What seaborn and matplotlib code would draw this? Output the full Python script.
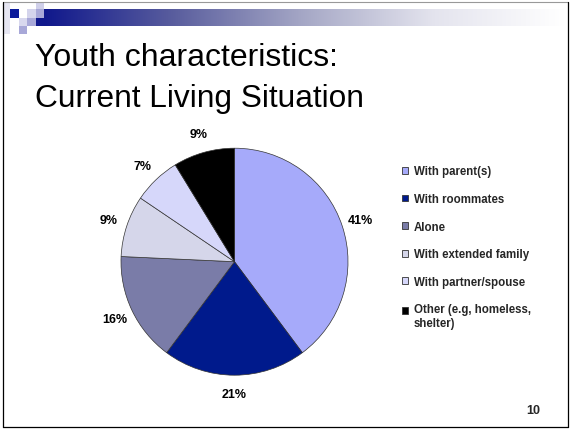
import numpy as np
import matplotlib
matplotlib.use("Agg")
import matplotlib.pyplot as plt
from matplotlib.patches import Rectangle
from matplotlib.lines import Line2D
import seaborn as sns

# ---- data ----
categories = ["With parent(s)", "With roommates", "Alone", "With extended family",
              "With partner/spouse", "Other (e.g, homeless,\nshelter)"]
values = [41, 21, 16, 9, 7, 9]
colors = ["#A6AAFA", "#001A8C", "#7A7CA8", "#D5D6EA", "#D6D7FA", "#000000"]
title_lines = ["Youth characteristics:", "Current Living Situation"]
slide_number = "10"

sns.set_theme(style="white")
plt.rcParams["font.family"] = ["Liberation Sans", "DejaVu Sans"]

W, H = 572, 431
fig = plt.figure(figsize=(W / 100, H / 100), dpi=100)
fig.patch.set_facecolor("white")

def px_rect(x0, y0, w, h, color, **kw):
    fig.patches.append(Rectangle((x0 / W, 1 - (y0 + h) / H), w / W, h / H,
                                 transform=fig.transFigure, facecolor=color,
                                 edgecolor="none", **kw))

# gradient header bar
gax = fig.add_axes([44 / W, 1 - 27 / H, (565 - 44) / W, 17 / H])
grad = np.linspace(0, 1, 256)[None, :]
cmap = matplotlib.colors.LinearSegmentedColormap.from_list(
    "hdr", ["#10188C", "#5A5E9E", "#A6A8C6", "#E4E4EE", "#FFFFFF"])
gax.imshow(grad, aspect="auto", cmap=cmap, extent=[0, 1, 0, 1])
gax.axis("off")

# corner squares
px_rect(3, 3, 7, 32, "#E6E6F2")
px_rect(36, 3, 8, 7, "#D0D0EA")
px_rect(10, 10, 9, 9, "#0A1A9A")
px_rect(27, 10, 9, 9, "#D4D4EC")
px_rect(36, 10, 8, 9, "#A8A8D8")
px_rect(36, 19, 8, 8, "#10188C")
px_rect(19, 19, 8, 8, "#D8D8EE")
px_rect(27, 19, 9, 8, "#A8A8D8")
px_rect(19, 27, 8, 8, "#A8A8D8")

# slide border
def px_line(x0, y0, x1, y1, color, lw):
    fig.lines.append(Line2D([x0 / W, x1 / W], [1 - y0 / H, 1 - y1 / H],
                            transform=fig.transFigure, color=color, lw=lw))
px_line(3, 3, 568, 3, "#999999", 0.8)
px_line(3, 3, 3, 428, "#000000", 0.9)
px_line(3, 428, 568, 428, "#000000", 0.9)
px_line(568, 3, 568, 428, "#000000", 0.9)

# title
fig.text(35 / W, 1 - 66.5 / H, title_lines[0], fontsize=23, va="baseline", ha="left", color="black")
fig.text(35 / W, 1 - 106.5 / H, title_lines[1], fontsize=22.8, va="baseline", ha="left", color="black")

# pie
cx, cy, R = 234.5, 262.7, 113.5
side = 2.5 * R
ax = fig.add_axes([(cx - side / 2) / W, (H - cy - side / 2) / H, side / W, side / H])
wedges, texts = ax.pie(values, colors=colors, startangle=90, counterclock=False,
                       labels=[f"{v}%" for v in values], labeldistance=1.17,
                       wedgeprops=dict(edgecolor="#333333", linewidth=0.5),
                       textprops=dict(fontsize=9, fontweight="bold", color="black"))
for t in texts:
    t.set_ha("center")
    t.set_va("center")
ax.set_xlim(-1.25, 1.25)
ax.set_ylim(-1.25, 1.25)
ax.set_aspect("equal")
ax.axis("off")

# legend
leg = fig.legend(wedges, categories, loc="upper left",
                 bbox_to_anchor=(402 / W, 1 - 166.5 / H), frameon=False,
                 prop=dict(size=8.3, weight="bold"), handlelength=0.55, handleheight=0.55,
                 handletextpad=0.5, labelspacing=1.35, borderaxespad=0, borderpad=0)
for h in leg.legend_handles:
    h.set_edgecolor("#333333")
    h.set_linewidth(0.6)
# align the two-line entry's marker with its first line
last = leg.legend_handles[-1]
last.set_y(last.get_y() + 4.2)

# slide number
fig.text(533 / W, 1 - 411 / H, slide_number, fontsize=9, fontweight="bold", ha="center", va="center")

fig.savefig("out.png", dpi=100)
